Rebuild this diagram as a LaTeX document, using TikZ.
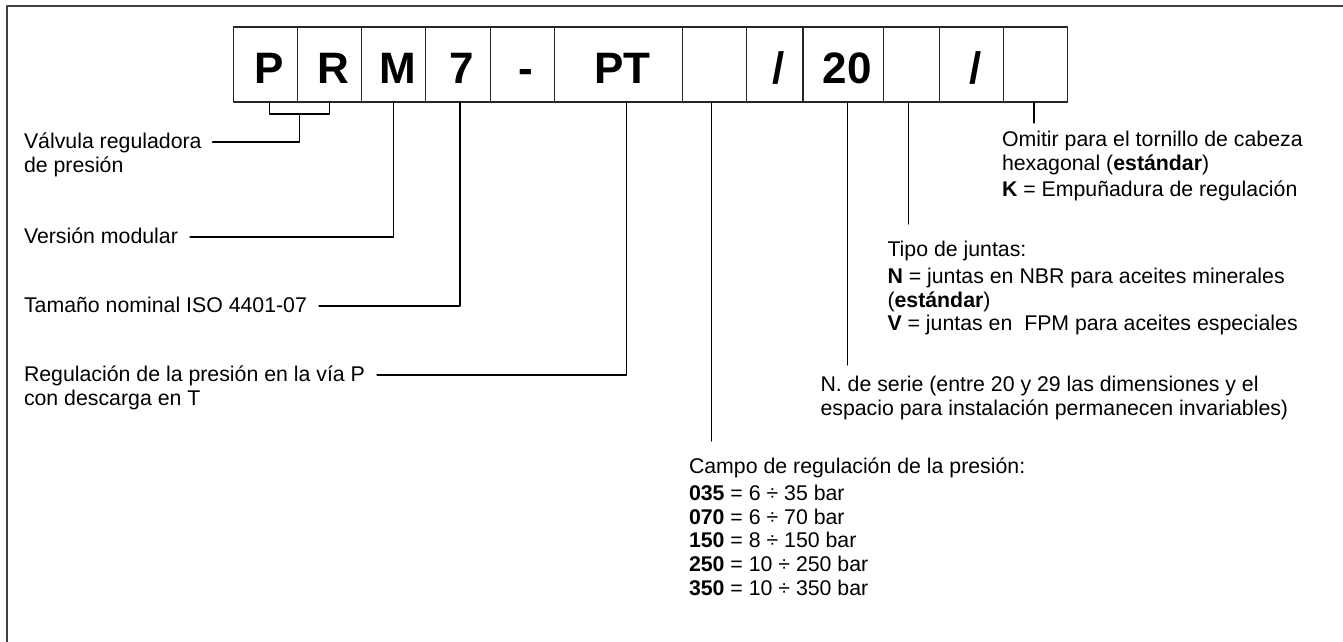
\documentclass[tikz,border=0pt]{standalone}
\usepackage{fontspec}
\setmainfont{Liberation Sans}
\usetikzlibrary{positioning,calc}
\begin{document}
\begin{tikzpicture}[x=1pt,y=-1pt, line join=round, line cap=round,
		box/.style={draw=black!85, line width=1.1pt, minimum height=75pt, inner sep=0pt, outer sep=0pt,
			text height=37pt, text depth=0pt, font=\fontsize{44}{44}\selectfont\bfseries,
			anchor=west, execute at begin node=\hspace*{8pt}},
		lbl/.style={inner sep=0pt, outer sep=0pt, font=\fontsize{21.3}{23.6}\selectfont, align=left},
		con/.style={line width=1.1pt}]
		\def\wb{64.2} % ancho de casilla
		\useasboundingbox (0,0) rectangle (1343,642);
		\draw[line width=2.2pt, color=black!75, line cap=butt] (6.7,642)--(6.7,5.7)--(1343,5.7);
		
		% casillas del codigo
		\node[box, minimum width=\wb] (bP) at (233.3,64.5) {P};
		\node[box, minimum width=\wb, right=0pt of bP] (bR) {R};
		\node[box, minimum width=\wb, right=0pt of bR] (bM) {M};
		\node[box, minimum width=\wb, right=0pt of bM] (b7) {7};
		\node[box, minimum width=\wb, right=0pt of b7] (bd) {-};
		\node[box, minimum width=128.2, right=0pt of bd] (bPT) {PT};
		\node[box, minimum width=\wb, right=0pt of bPT] (bC) {};
		\node[box, minimum width=56.3, right=0pt of bC] (bs1) {/};
		\node[box, minimum width=80.3, right=0pt of bs1] (b20) {20};
		\node[box, minimum width=56, right=0pt of b20] (bJ) {};
		\node[box, minimum width=\wb, right=0pt of bJ] (bs2) {/};
		\node[box, minimum width=\wb, right=0pt of bs2] (bK) {};
		
		% textos a la izquierda
		\node[lbl, anchor=base west] (valv) at (24,148) {Válvula reguladora};
		\node[lbl, anchor=base west] (valvb) at ([yshift=-24pt]valv.base west) {de presión};
		\node[lbl, anchor=base west] (vers) at (24,243) {Versión modular};
		\node[lbl, anchor=base west] (tam) at (24,312) {Tamaño nominal ISO 4401-07};
		\node[lbl, anchor=base west] (reg) at (24,381) {Regulación de la presión en la vía P};
		\node[lbl, anchor=base west] (regb) at ([yshift=-24pt]reg.base west) {con descarga en T};
		
		% textos a la derecha
		\node[lbl, anchor=north west] (omit) at (1002,131) {Omitir para el tornillo de cabeza\\
			hexagonal (\textbf{estándar})\\[2.4pt]
			\textbf{K} = Empuñadura de regulación};
		\node[lbl, anchor=north west] (tipo) at (887.5,241) {Tipo de juntas:\\[3.4pt]
			\textbf{N} = juntas en NBR para aceites minerales\\
			(\textbf{estándar})\\
			\textbf{V} = juntas en\ \ FPM para aceites especiales};
		\node[lbl, anchor=north west] (serie) at (820.5,376) {N. de serie (entre 20 y 29 las dimensiones y el\\
			espacio para instalación permanecen invariables)};
		\node[lbl, anchor=north west] (campo) at (689,458) {Campo de regulación de la presión:\\[3.4pt]
			\textbf{035} = 6 ÷ 35 bar\\
			\textbf{070} = 6 ÷ 70 bar\\
			\textbf{150} = 8 ÷ 150 bar\\
			\textbf{250} = 10 ÷ 250 bar\\
			\textbf{350} = 10 ÷ 350 bar};
		
		% lineas de referencia
		\coordinate (brk) at ($(bP.south)!0.5!(bR.south)+(2,12)$);
		\draw[con] ([xshift=4pt]bP.south) -- ++(0,12) -| (bR.south);
		\draw[con, shorten <=11pt] ([yshift=6pt]valv.base east) -| (brk);
		\draw[con, shorten <=12pt] ([yshift=6pt]vers.base east) -| (bM.south);
		\draw[con, shorten <=12pt] ([yshift=6pt]tam.base east) -| ([xshift=2pt]b7.south);
		\draw[con, shorten <=12pt] ([yshift=6pt]reg.base east) -| ([xshift=8pt]bPT.south);
		\draw[con] ([xshift=-1.6pt]bK.south) -- ($(bK.south |- omit.north)+(-1.6,-8)$);
		\draw[con] ([xshift=-3pt]bJ.south) -- ($(bJ.south |- tipo.north)+(-3,-17)$);
		\draw[con] ([xshift=4.5pt]b20.south) -- ($(b20.south |- serie.north)+(4.5,-11)$);
		\draw[con] ([xshift=-2.7pt]bC.south) -- ($(bC.south |- campo.north)+(-2.7,-17)$);
\end{tikzpicture}
\end{document}
